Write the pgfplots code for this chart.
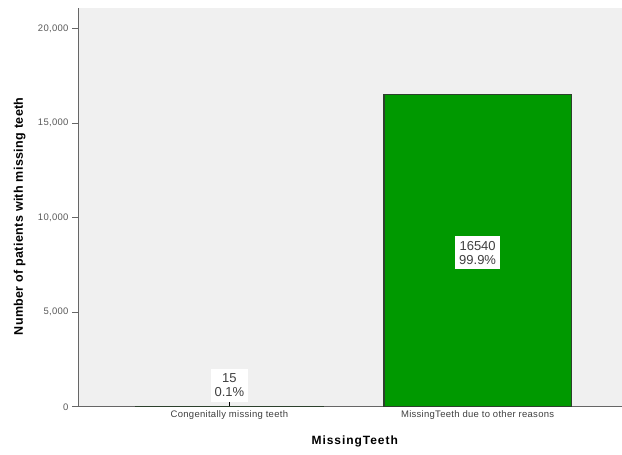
\documentclass[border=0pt]{standalone}
\usepackage{fontspec}
\setmainfont{Liberation Sans}
\usepackage{pgfplots}
\pgfplotsset{compat=1.18}
\definecolor{bargreen}{RGB}{0,153,0}
\definecolor{barline}{RGB}{45,65,45}
\definecolor{bggray}{RGB}{240,240,240}
\begin{document}
\begin{tikzpicture}
\begin{axis}[
  at={(0,0)}, anchor=south west,
  scale only axis,
  width=544pt, height=399pt,
  xmin=-0.61, xmax=1.58,
  ymin=0, ymax=21100,
  axis background/.style={fill=bggray},
  axis x line*=bottom, axis y line*=left,
  axis line style={draw=gray!80!black, thick},
  xtick={0,1},
  xticklabels={Congenitally missing teeth, MissingTeeth due to other reasons},
  ytick={0,5000,10000,15000,20000},
  scaled y ticks=false,
  /pgf/number format/1000 sep={,},
  /pgf/number format/assume math mode=true,
  yticklabel style={font=\fontsize{9.5}{10}\selectfont\addfontfeatures{LetterSpace=3}, text=black!65},
  xticklabel style={font=\fontsize{9.5}{10}\selectfont\addfontfeatures{LetterSpace=3}, text=black!75},
  y tick style={draw=gray!80!black, thick},
  x tick style={draw=black, thick},
  major tick length=6pt,
  ytick align=outside,
  xtick align=inside,
  xlabel={\textbf{MissingTeeth}},
  ylabel={\textbf{Number of patients with missing teeth}},
  xlabel style={font=\fontsize{12}{13}\selectfont\addfontfeatures{LetterSpace=8},
    at={(axis description cs:0.51,-0.088)}, anchor=center},
  ylabel style={font=\fontsize{12.5}{13}\selectfont\addfontfeatures{LetterSpace=3},
    at={(axis description cs:-0.107,0.478)}, anchor=center},
  clip=false,
]
\addplot[ybar, bar width=0.755, fill=bargreen, draw=barline, line width=1.3pt, bar shift=0pt]
  coordinates {(0,15) (1,16540)};
\addplot[draw=none, mark=none, point meta=explicit symbolic,
  nodes near coords,
  nodes near coords align={center},
  nodes near coords style={fill=white, align=center, anchor=center,
    inner xsep=4pt, inner ysep=5pt,
    font=\fontsize{13}{14}\selectfont, text=black!75}]
  coordinates {(0,1130) [15\\0.1\%] (1,8150) [16540\\99.9\%]};
\end{axis}
\useasboundingbox (-78pt,-48pt) rectangle (544pt,407pt);
\end{tikzpicture}
\end{document}
